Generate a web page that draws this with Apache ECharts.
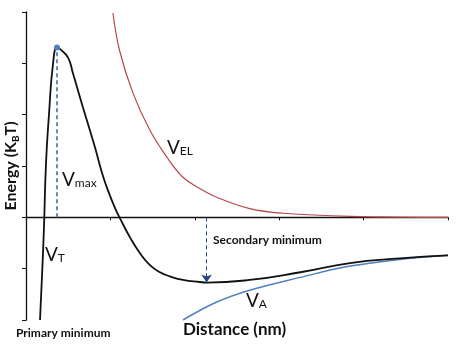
<!DOCTYPE html>
<html><head><meta charset="utf-8">
<script src="https://cdn.jsdelivr.net/npm/echarts@6/dist/echarts.min.js"></script>
<style>html,body{margin:0;padding:0;background:#fff}#c{width:456px;height:346px}</style>
</head><body><div id="c"></div>
<script>
// Total interaction energy V_T
const vtX = [0.166, 0.19, 0.213, 0.237, 0.273, 0.32, 0.367, 0.40, 0.498, 0.557, 0.616, 0.675, 0.758, 0.818, 0.900, 0.972, 1.055, 1.114, 1.232, 1.351, 1.469, 1.588, 1.706, 1.86, 2.06, 2.14, 2.65, 3.25, 3.84, 4.43, 5.0];
const vtY = [-2.0, -1.13, -0.19, 1.05, 2.02, 2.99, 3.31, 3.28, 3.11, 2.80, 2.47, 2.14, 1.69, 1.36, 0.87, 0.52, 0.18, -0.02, -0.39, -0.70, -0.93, -1.07, -1.15, -1.22, -1.26, -1.27, -1.22, -1.07, -0.89, -0.80, -0.74];
// Electrostatic repulsion V_EL
const velX = [1.03, 1.11, 1.27, 1.47, 1.67, 1.86, 2.06, 2.26, 2.65, 3.05, 3.84, 5.0];
const velY = [3.98, 3.24, 2.41, 1.69, 1.17, 0.78, 0.56, 0.39, 0.17, 0.08, 0.02, 0.0];
// van der Waals attraction V_A
const vaX = [1.86, 2.26, 2.65, 3.25, 3.84, 4.43, 5.0];
const vaY = [-2.0, -1.65, -1.42, -1.17, -0.95, -0.82, -0.74];
// Annotated points
const vmaxPoint = [0.367, 3.31];
const secMinPoint = [2.14, -1.27];
const xTicks = [0, 1, 2, 3, 4, 5];
const yTicks = [-2, -1, 0, 1, 2, 3, 4];

const zip = (xs, ys) => xs.map((x, i) => [x, ys[i]]);
const chart = echarts.init(document.getElementById('c'));
const font = 'Lato, "Open Sans", sans-serif';
const vLabel = (t, s) => ({
  rich: {v: {fontFamily: font, fontSize: 19, fill: '#111'}, s: {fontFamily: font, fontSize: 12, fill: '#111', padding: [8, 0, 0, 0]}},
  text: '{v|' + t + '}{s|' + s + '}'
});
chart.setOption({
  animation: false,
  grid: {left: 26, right: 8, top: 12, bottom: 26, containLabel: false, outerBoundsMode: 'none'},
  xAxis: {
    type: 'value', min: xTicks[0], max: xTicks[xTicks.length - 1], interval: 1,
    axisLine: {onZero: true, lineStyle: {color: '#111', width: 1.3}},
    axisTick: {show: true, length: 3, lineStyle: {color: '#111'}},
    axisLabel: {show: false}, splitLine: {show: false}
  },
  yAxis: {
    type: 'value', min: yTicks[0], max: yTicks[yTicks.length - 1], interval: 1,
    axisLine: {onZero: false, lineStyle: {color: '#111', width: 1.3}},
    axisTick: {show: true, length: 4, lineStyle: {color: '#111'}},
    axisLabel: {show: false}, splitLine: {show: false},
    name: '{a|Energy (K}{s|B}{a|T)}', nameLocation: 'middle', nameGap: 5,
    nameTextStyle: {
      rich: {
        a: {fontFamily: font, fontWeight: 'bold', fontSize: 16, color: '#111', lineHeight: 20},
        s: {fontFamily: font, fontWeight: 'bold', fontSize: 10, color: '#111', lineHeight: 20, verticalAlign: 'bottom', padding: [6, 0, 0, 0]}
      }
    }
  },
  series: [
    {type: 'line', name: 'VEL', data: zip(velX, velY), smooth: 0.4, showSymbol: false,
     lineStyle: {color: '#b5474a', width: 1.2}},
    {type: 'line', name: 'VA', data: zip(vaX, vaY), smooth: 0.4, showSymbol: false,
     lineStyle: {color: '#4f81bd', width: 1.5}},
    {type: 'line', name: 'VT', data: zip(vtX, vtY), smooth: 0.5, showSymbol: false, z: 3,
     lineStyle: {color: '#111', width: 1.8},
     markLine: {
       silent: true, animation: false, label: {show: false},
       data: [
         [{coord: [vmaxPoint[0], 0], symbol: 'none'},
          {coord: vmaxPoint, symbol: 'circle', symbolSize: 6, lineStyle: {color: '#4f81bd', type: [4, 3], width: 1.8}, itemStyle: {color: '#4f81bd'}}],
         [{coord: [secMinPoint[0], 0], symbol: 'none'},
          {coord: secMinPoint, symbol: 'arrow', symbolSize: 8, lineStyle: {color: '#1f497d', type: [4, 3], width: 1}, itemStyle: {color: '#1f497d'}}]
       ]
     }}
  ],
  graphic: [
    {type: 'text', left: 62, top: 170, style: vLabel('V', 'max')},
    {type: 'text', left: 45, top: 245, style: vLabel('V', 'T')},
    {type: 'text', left: 167, top: 138, style: vLabel('V', 'EL')},
    {type: 'text', left: 246, top: 291, style: vLabel('V', 'A')},
    {type: 'text', left: 213, top: 234, style: {text: 'Secondary minimum', font: 'bold 12px ' + font, fill: '#111'}},
    {type: 'text', left: 16, top: 327, style: {text: 'Primary minimum', font: 'bold 12px ' + font, fill: '#111'}},
    {type: 'text', left: 183, top: 321, style: {text: 'Distance (nm)', font: 'bold 17px ' + font, fill: '#111'}}
  ]
});
</script></body></html>
